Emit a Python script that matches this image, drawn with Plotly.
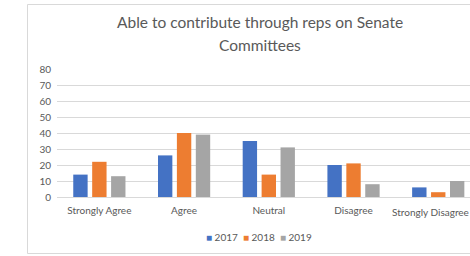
import plotly.graph_objects as go

categories = ["Strongly Agree", "Agree", "Neutral", "Disagree", "Strongly Disagree"]
years = ["2017", "2018", "2019"]
values_2017 = [14, 26, 35, 20, 6]
values_2018 = [22, 40, 14, 21, 3]
values_2019 = [13, 39, 31, 8, 10]
series = [values_2017, values_2018, values_2019]
colors = ["#4472C4", "#ED7D31", "#A5A5A5"]

W, H = 470, 256
L, R, T, B = 57, 0, 69, 59
pw = W - L - R
ph = H - T - B

fig = go.Figure()
for name, vals, c in zip(years, series, colors):
    fig.add_trace(go.Bar(x=categories, y=vals, name=name,
                         marker=dict(color=c, line=dict(width=0)), showlegend=False))

font_family = "Lato, Liberation Sans, Arial, sans-serif"
grey_text = "#595959"

def px_x(px):
    return (px - L) / pw

def px_y(py):
    return (H - B - py) / ph

legend_text = "&nbsp;&nbsp;".join(
    f"<span style='color:{c}'>■</span>&nbsp;{y}" for y, c in zip(years, colors)
)

# the last category label would run past the window edge; keep it inside the page
inner_idx = list(range(len(categories) - 1))

fig.update_layout(
    width=W, height=H,
    margin=dict(l=L, r=R, t=T, b=B, pad=0),
    paper_bgcolor="white", plot_bgcolor="white",
    barmode="group", bargap=0.33, bargroupgap=0.24,
    font=dict(family=font_family, color=grey_text, size=10),
    xaxis=dict(
        range=[-0.5, 4.5 - (480.6 - 470) / 84.7],
        tickvals=[categories[i] for i in inner_idx],
        ticktext=[categories[i] for i in inner_idx],
        showgrid=False, ticks="", showline=False, zeroline=False,
        ticklabelstandoff=6,
        tickfont=dict(size=10, color=grey_text),
        fixedrange=True,
    ),
    yaxis=dict(
        range=[0, 80], dtick=10, tick0=0,
        showgrid=True, gridcolor="#D9D9D9", gridwidth=1,
        zeroline=True, zerolinecolor="#D9D9D9", zerolinewidth=1,
        showline=False, ticks="", ticklabelstandoff=5,
        tickfont=dict(size=10, color=grey_text),
        fixedrange=True,
    ),
    showlegend=False,
    annotations=[
        dict(text="Able to contribute through reps on Senate", xref="paper", yref="paper",
             x=px_x(260), y=px_y(22), xanchor="center", yanchor="middle", showarrow=False,
             font=dict(family=font_family, size=15.5, color=grey_text)),
        dict(text="Committees", xref="paper", yref="paper",
             x=px_x(260), y=px_y(45), xanchor="center", yanchor="middle", showarrow=False,
             font=dict(family=font_family, size=15.5, color=grey_text)),
        dict(text=categories[-1], xref="paper", yref="paper",
             x=1, y=px_y(211.5), xanchor="right", yanchor="middle", showarrow=False,
             borderpad=0, font=dict(family=font_family, size=10, color=grey_text)),
        dict(text=legend_text, xref="paper", yref="paper",
             x=px_x(259), y=px_y(237), xanchor="center", yanchor="middle",
             showarrow=False, font=dict(size=10, color=grey_text, family=font_family)),
    ],
    shapes=[dict(
        type="path", xref="paper", yref="paper",
        path=(f"M {px_x(470)},{px_y(4.5)} L {px_x(27.5)},{px_y(4.5)} "
              f"L {px_x(27.5)},{px_y(253.5)} L {px_x(470)},{px_y(253.5)}"),
        line=dict(color="#D9D9D9", width=1), layer="below",
    )],
)

fig.write_html("out.html", config={"displayModeBar": False},
               post_script="document.body.style.margin='0';document.body.style.overflow='hidden';")
